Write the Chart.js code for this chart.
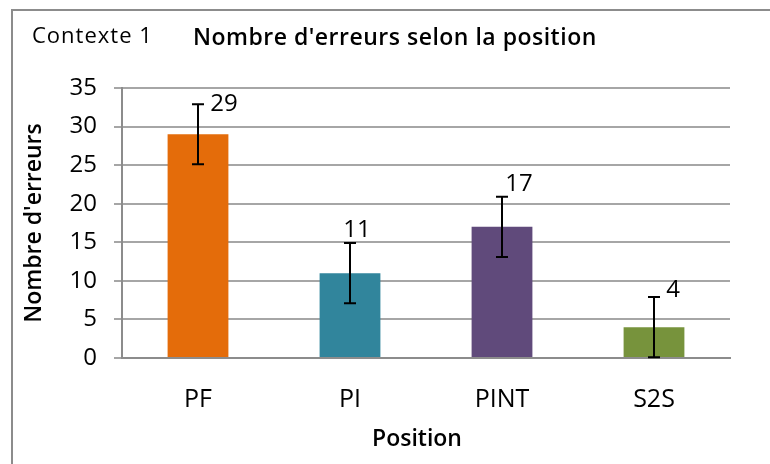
<!DOCTYPE html>
<html>
<head>
<meta charset="utf-8">
<script src="https://cdn.jsdelivr.net/npm/chart.js@4/dist/chart.umd.min.js"></script>
<style>
  html, body { margin: 0; padding: 0; background: #fff; }
  #wrap { position: relative; width: 770px; height: 464px; }
  canvas { display: block; }
</style>
</head>
<body>
<div id="wrap"><canvas id="c" width="770" height="464"></canvas></div>
<script>
// ---- data ----
const categories = ['PF', 'PI', 'PINT', 'S2S'];
const errorCounts = [29, 11, 17, 4];
const errorMargins = [3.9, 3.9, 3.9, 3.9];
const yTicks = [0, 5, 10, 15, 20, 25, 30, 35];
const barColors = ['#E46C0A', '#31859C', '#604A7B', '#77933C'];

const chartTitle = "Nombre d'erreurs selon la position";
const contextLabel = 'Contexte 1';
const yAxisTitle = "Nombre d'erreurs";
const xAxisTitle = 'Position';

// label offsets (style) relative to top of error bar
const labelOffsets = [[26, 0], [7, -13], [17, -13], [19, -7]];

const FONT = '"Open Sans", Lato, sans-serif';

const overlay = {
  id: 'overlay',
  afterDatasetsDraw(chart) {
    const ctx = chart.ctx;
    const meta = chart.getDatasetMeta(0);
    const ys = chart.scales.y;
    ctx.save();
    ctx.strokeStyle = '#000';
    ctx.lineWidth = 2;
    meta.data.forEach((bar, i) => {
      const x = bar.x;
      const top = ys.getPixelForValue(errorCounts[i] + errorMargins[i]);
      const bot = ys.getPixelForValue(Math.max(0, errorCounts[i] - errorMargins[i]));
      ctx.beginPath();
      ctx.moveTo(x, top); ctx.lineTo(x, bot);
      ctx.moveTo(x - 6, top); ctx.lineTo(x + 6, top);
      ctx.moveTo(x - 6, bot); ctx.lineTo(x + 6, bot);
      ctx.stroke();
    });
    ctx.fillStyle = '#000';
    ctx.font = '24px ' + FONT;
    ctx.textAlign = 'center';
    ctx.textBaseline = 'middle';
    meta.data.forEach((bar, i) => {
      const top = ys.getPixelForValue(errorCounts[i] + errorMargins[i]);
      ctx.fillText(String(errorCounts[i]), bar.x + labelOffsets[i][0], top + labelOffsets[i][1]);
    });
    ctx.restore();
  },
  afterDraw(chart) {
    const ctx = chart.ctx;
    const a = chart.chartArea;
    ctx.save();
    ctx.strokeStyle = '#8C8C8C';
    ctx.lineWidth = 2;
    ctx.beginPath();
    ctx.moveTo(12, 470); ctx.lineTo(12, 10); ctx.lineTo(780, 10);
    ctx.stroke();
    ctx.fillStyle = '#000';
    ctx.textBaseline = 'middle';
    ctx.textAlign = 'left';
    ctx.font = '22px ' + FONT;
    ctx.letterSpacing = '1px';
    ctx.fillText(contextLabel, 32, 37);
    ctx.font = '600 23px ' + FONT;
    ctx.letterSpacing = '0.5px';
    ctx.fillText(chartTitle, 193, 38);
    ctx.letterSpacing = '0px';
    ctx.textAlign = 'center';
    ctx.font = '600 23px ' + FONT;
    ctx.fillText(xAxisTitle, 417, 439);
    ctx.translate(34, (a.top + a.bottom) / 2);
    ctx.rotate(-Math.PI / 2);
    ctx.fillText(yAxisTitle, 0, 0);
    ctx.restore();
  }
};

new Chart(document.getElementById('c'), {
  type: 'bar',
  data: {
    labels: categories,
    datasets: [{
      data: errorCounts,
      backgroundColor: barColors,
      borderWidth: 0,
      barPercentage: 0.4,
      categoryPercentage: 1.0
    }]
  },
  options: {
    responsive: false,
    devicePixelRatio: 1,
    animation: false,
    layout: { padding: { top: 88, right: 40, left: 0, bottom: 0 } },
    plugins: { legend: { display: false }, tooltip: { enabled: false }, title: { display: false } },
    scales: {
      x: {
        grid: { display: false, drawTicks: false },
        border: { display: true, color: '#8C8C8C', width: 2 },
        ticks: { color: '#000', font: { family: FONT, size: 25 }, padding: 27, maxRotation: 0 },
        afterFit(s) { s.height = 106; }
      },
      y: {
        min: 0, max: 35,
        afterBuildTicks(s) { s.ticks = yTicks.map(v => ({ value: v })); },
        grid: { color: '#A6A6A6', lineWidth: 2, tickLength: 8, drawTicks: true },
        border: { display: true, color: '#8C8C8C', width: 2 },
        ticks: { color: '#000', font: { family: FONT, size: 24 }, padding: 17 },
        afterFit(s) { s.width = 122; }
      }
    }
  },
  plugins: [overlay]
});
</script>
</body>
</html>
